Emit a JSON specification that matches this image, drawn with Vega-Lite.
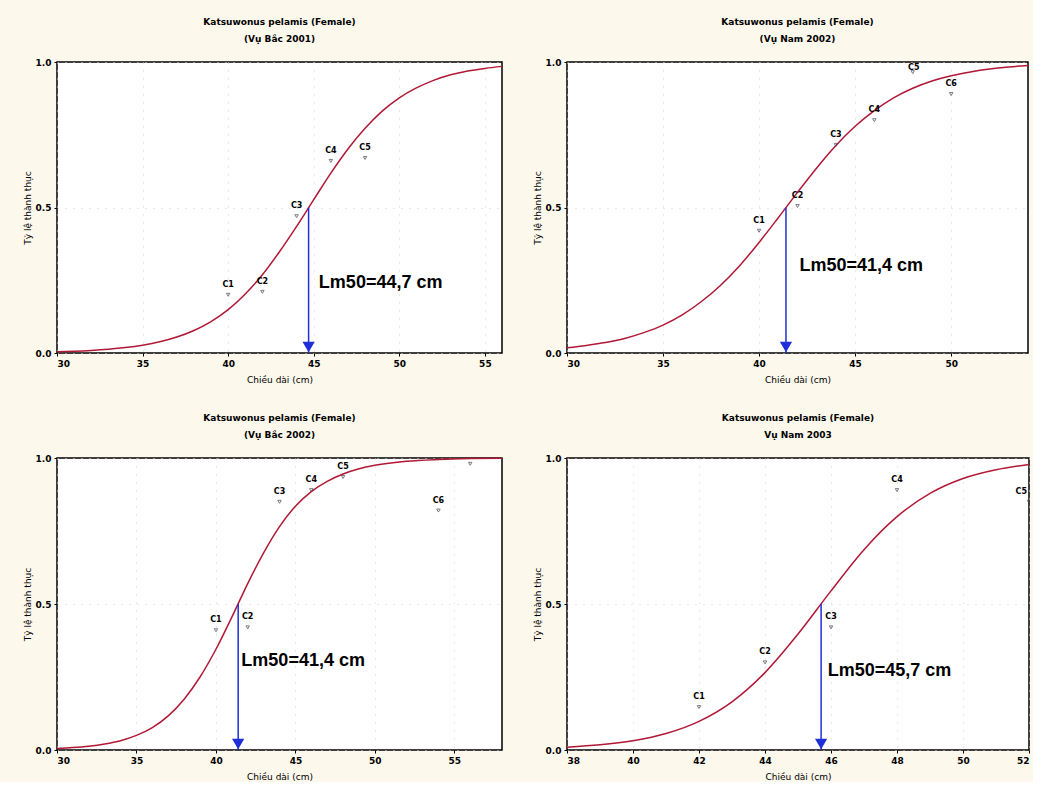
{
"$schema": "https://vega.github.io/schema/vega-lite/v6.json",
"background": "#fcf8ec",
"padding": {"left": 22, "top": 17, "right": 0, "bottom": 0},
"bounds": "flush",
"columns": 2,
"spacing": {"row": 105, "column": 65},
"align": "each",
"config": {
  "view": {"stroke": "#000", "strokeWidth": 1.5, "fill": "#ffffff"},
  "axis": {"labelFont": "DejaVu Sans", "labelFontSize": 9, "labelFontWeight": "bold", "labelColor": "#000",
           "titleFont": "DejaVu Sans", "titleFontSize": 9, "titleFontWeight": "normal", "titleColor": "#000",
           "domain": false, "tickColor": "#000", "tickSize": 3, "labelPadding": 3,
           "gridColor": "#d2d2d2", "gridDash": [1, 7], "gridWidth": 1},
  "axisX": {"titlePadding": 7},
  "axisY": {"titlePadding": 3},
  "title": {"font": "DejaVu Sans", "fontSize": 9, "fontWeight": "bold", "subtitleFont": "DejaVu Sans", "subtitleFontSize": 9, "subtitleFontWeight": "bold", "subtitleColor": "#000", "subtitlePadding": 8, "offset": 14, "anchor": "middle"}
},
"concat": [
{
 "width": 445, "height": 291,
 "title": {"text": "Katsuwonus pelamis (Female)", "subtitle": "(Vụ Bắc 2001)"},
 "layer": [
  {"data": {"values": [{"x":30,"y":0.0043},{"x":31,"y":0.0062},{"x":32,"y":0.009},{"x":33,"y":0.013},{"x":34,"y":0.0187},{"x":35,"y":0.0269},{"x":36,"y":0.0384},{"x":37,"y":0.0547},{"x":38,"y":0.0773},{"x":39,"y":0.108},{"x":40,"y":0.149},{"x":41,"y":0.203},{"x":42,"y":0.269},{"x":43,"y":0.348},{"x":44,"y":0.435},{"x":45,"y":0.527},{"x":46,"y":0.618},{"x":47,"y":0.701},{"x":48,"y":0.772},{"x":49,"y":0.831},{"x":50,"y":0.877},{"x":51,"y":0.911},{"x":52,"y":0.937},{"x":53,"y":0.956},{"x":54,"y":0.969},{"x":55,"y":0.978},{"x":56,"y":0.985}]},
   "mark": {"type": "line", "color": "#b01835", "strokeWidth": 1.5, "interpolate": "monotone"},
   "encoding": {
     "x": {"field": "x", "type": "quantitative", "scale": {"domain": [30, 56], "nice": false, "zero": false}, "axis": {"title": "Chiều dài (cm)", "values": [30,35,40,45,50,55]}},
     "y": {"field": "y", "type": "quantitative", "scale": {"domain": [0, 1], "nice": false}, "axis": {"title": "Tỷ lệ thành thục", "values": [0, 0.5, 1], "format": ".1f"}}
   }},
  {"data": {"values": [{"x":44.7,"y":0.5,"y0":0}]},
   "mark": {"type": "rule", "color": "#1f2fd8", "strokeWidth": 1.5},
   "encoding": {"x": {"field": "x", "type": "quantitative"}, "y": {"field": "y", "type": "quantitative"}, "y2": {"field": "y0"}}},
  {"data": {"values": [{"x":44.7,"y":0}]},
   "mark": {"type": "point", "shape": "triangle-down", "filled": true, "color": "#1f2fd8", "size": 150, "opacity": 1, "yOffset": -6},
   "encoding": {"x": {"field": "x", "type": "quantitative"}, "y": {"field": "y", "type": "quantitative"}}},
  {"data": {"values": [{"x":45.3,"y":0.24,"label":"Lm50=44,7 cm"}]},
   "mark": {"type": "text", "align": "left", "baseline": "middle", "font": "Liberation Sans", "fontSize": 18, "fontWeight": "bold", "color": "#000"},
   "encoding": {"x": {"field": "x", "type": "quantitative"}, "y": {"field": "y", "type": "quantitative"}, "text": {"field": "label"}}},
  {"data": {"values": [{"x":40,"y":0.2,"label":"C1"},{"x":42,"y":0.21,"label":"C2"},{"x":44,"y":0.47,"label":"C3"},{"x":46,"y":0.66,"label":"C4"},{"x":48,"y":0.67,"label":"C5"}]},
   "layer": [
    {"mark": {"type": "point", "shape": "triangle-down", "size": 12, "filled": false, "color": "#445", "strokeWidth": 1, "clip": true},
     "encoding": {"x": {"field": "x", "type": "quantitative"}, "y": {"field": "y", "type": "quantitative"}}},
    {"mark": {"type": "text", "dy": -10, "font": "DejaVu Sans", "fontSize": 8, "fontWeight": "bold", "color": "#000", "clip": true},
     "encoding": {"x": {"field": "x", "type": "quantitative"}, "y": {"field": "y", "type": "quantitative"}, "text": {"field": "label"}}}
   ]}
 ]
},
{
 "width": 461, "height": 291,
 "title": {"text": "Katsuwonus pelamis (Female)", "subtitle": "(Vụ Nam 2002)"},
 "layer": [
  {"data": {"values": [{"x":30,"y":0.018},{"x":31,"y":0.026},{"x":32,"y":0.036},{"x":33,"y":0.05},{"x":34,"y":0.07},{"x":35,"y":0.096},{"x":36,"y":0.131},{"x":37,"y":0.177},{"x":38,"y":0.233},{"x":39,"y":0.301},{"x":40,"y":0.38},{"x":41,"y":0.465},{"x":42,"y":0.552},{"x":43,"y":0.636},{"x":44,"y":0.713},{"x":45,"y":0.779},{"x":46,"y":0.833},{"x":47,"y":0.877},{"x":48,"y":0.91},{"x":49,"y":0.935},{"x":50,"y":0.953},{"x":51,"y":0.966},{"x":52,"y":0.976},{"x":53,"y":0.983},{"x":54,"y":0.988}]},
   "mark": {"type": "line", "color": "#b01835", "strokeWidth": 1.5, "interpolate": "monotone"},
   "encoding": {
     "x": {"field": "x", "type": "quantitative", "scale": {"domain": [30, 54], "nice": false, "zero": false}, "axis": {"title": "Chiều dài (cm)", "values": [30,35,40,45,50]}},
     "y": {"field": "y", "type": "quantitative", "scale": {"domain": [0, 1], "nice": false}, "axis": {"title": "Tỷ lệ thành thục", "values": [0, 0.5, 1], "format": ".1f"}}
   }},
  {"data": {"values": [{"x":41.4,"y":0.5,"y0":0}]},
   "mark": {"type": "rule", "color": "#1f2fd8", "strokeWidth": 1.5},
   "encoding": {"x": {"field": "x", "type": "quantitative"}, "y": {"field": "y", "type": "quantitative"}, "y2": {"field": "y0"}}},
  {"data": {"values": [{"x":41.4,"y":0}]},
   "mark": {"type": "point", "shape": "triangle-down", "filled": true, "color": "#1f2fd8", "size": 150, "opacity": 1, "yOffset": -6},
   "encoding": {"x": {"field": "x", "type": "quantitative"}, "y": {"field": "y", "type": "quantitative"}}},
  {"data": {"values": [{"x":42.1,"y":0.30,"label":"Lm50=41,4 cm"}]},
   "mark": {"type": "text", "align": "left", "baseline": "middle", "font": "Liberation Sans", "fontSize": 18, "fontWeight": "bold", "color": "#000"},
   "encoding": {"x": {"field": "x", "type": "quantitative"}, "y": {"field": "y", "type": "quantitative"}, "text": {"field": "label"}}},
  {"data": {"values": [{"x":40,"y":0.42,"label":"C1"},{"x":42,"y":0.505,"label":"C2"},{"x":44,"y":0.715,"label":"C3"},{"x":46,"y":0.8,"label":"C4"},{"x":50,"y":0.89,"label":"C6"}]},
   "layer": [
    {"mark": {"type": "point", "shape": "triangle-down", "size": 12, "filled": false, "color": "#445", "strokeWidth": 1, "clip": true},
     "encoding": {"x": {"field": "x", "type": "quantitative"}, "y": {"field": "y", "type": "quantitative"}}},
    {"mark": {"type": "text", "dy": -10, "font": "DejaVu Sans", "fontSize": 8, "fontWeight": "bold", "color": "#000", "clip": true},
     "encoding": {"x": {"field": "x", "type": "quantitative"}, "y": {"field": "y", "type": "quantitative"}, "text": {"field": "label"}}}
   ]},
  {"data": {"values": [{"x":48,"y":0.965,"label":"C5"},{"x":52,"y":1.0,"label":""}]},
   "layer": [
    {"mark": {"type": "point", "shape": "triangle-down", "size": 12, "filled": false, "color": "#445", "strokeWidth": 1, "clip": true},
     "encoding": {"x": {"field": "x", "type": "quantitative"}, "y": {"field": "y", "type": "quantitative"}}},
    {"mark": {"type": "text", "dy": -4, "dx": 1, "font": "DejaVu Sans", "fontSize": 8, "fontWeight": "bold", "color": "#000", "clip": true},
     "encoding": {"x": {"field": "x", "type": "quantitative"}, "y": {"field": "y", "type": "quantitative"}, "text": {"field": "label"}}}
   ]}
 ]
},
{
 "width": 445, "height": 292,
 "title": {"text": "Katsuwonus pelamis (Female)", "subtitle": "(Vụ Bắc 2002)"},
 "layer": [
  {"data": {"values": [{"x":30,"y":0.0053},{"x":31,"y":0.0083},{"x":32,"y":0.013},{"x":33,"y":0.0206},{"x":34,"y":0.032},{"x":35,"y":0.05},{"x":36,"y":0.077},{"x":37,"y":0.117},{"x":38,"y":0.174},{"x":39,"y":0.25},{"x":40,"y":0.345},{"x":41,"y":0.455},{"x":42,"y":0.57},{"x":43,"y":0.675},{"x":44,"y":0.765},{"x":45,"y":0.835},{"x":46,"y":0.885},{"x":47,"y":0.92},{"x":48,"y":0.945},{"x":49,"y":0.963},{"x":50,"y":0.975},{"x":52,"y":0.989},{"x":54,"y":0.995},{"x":56,"y":0.998},{"x":58,"y":0.999}]},
   "mark": {"type": "line", "color": "#b01835", "strokeWidth": 1.5, "interpolate": "monotone"},
   "encoding": {
     "x": {"field": "x", "type": "quantitative", "scale": {"domain": [30, 58], "nice": false, "zero": false}, "axis": {"title": "Chiều dài (cm)", "values": [30,35,40,45,50,55]}},
     "y": {"field": "y", "type": "quantitative", "scale": {"domain": [0, 1], "nice": false}, "axis": {"title": "Tỷ lệ thành thục", "values": [0, 0.5, 1], "format": ".1f"}}
   }},
  {"data": {"values": [{"x":41.4,"y":0.5,"y0":0}]},
   "mark": {"type": "rule", "color": "#1f2fd8", "strokeWidth": 1.5},
   "encoding": {"x": {"field": "x", "type": "quantitative"}, "y": {"field": "y", "type": "quantitative"}, "y2": {"field": "y0"}}},
  {"data": {"values": [{"x":41.4,"y":0}]},
   "mark": {"type": "point", "shape": "triangle-down", "filled": true, "color": "#1f2fd8", "size": 150, "opacity": 1, "yOffset": -6},
   "encoding": {"x": {"field": "x", "type": "quantitative"}, "y": {"field": "y", "type": "quantitative"}}},
  {"data": {"values": [{"x":41.6,"y":0.305,"label":"Lm50=41,4 cm"}]},
   "mark": {"type": "text", "align": "left", "baseline": "middle", "font": "Liberation Sans", "fontSize": 18, "fontWeight": "bold", "color": "#000"},
   "encoding": {"x": {"field": "x", "type": "quantitative"}, "y": {"field": "y", "type": "quantitative"}, "text": {"field": "label"}}},
  {"data": {"values": [{"x":40,"y":0.41,"label":"C1"},{"x":42,"y":0.42,"label":"C2"},{"x":44,"y":0.85,"label":"C3"},{"x":46,"y":0.89,"label":"C4"},{"x":48,"y":0.935,"label":"C5"},{"x":54,"y":0.82,"label":"C6"},{"x":56,"y":0.98,"label":""}]},
   "layer": [
    {"mark": {"type": "point", "shape": "triangle-down", "size": 12, "filled": false, "color": "#445", "strokeWidth": 1, "clip": true},
     "encoding": {"x": {"field": "x", "type": "quantitative"}, "y": {"field": "y", "type": "quantitative"}}},
    {"mark": {"type": "text", "dy": -10, "font": "DejaVu Sans", "fontSize": 8, "fontWeight": "bold", "color": "#000", "clip": true},
     "encoding": {"x": {"field": "x", "type": "quantitative"}, "y": {"field": "y", "type": "quantitative"}, "text": {"field": "label"}}}
   ]}
 ]
},
{
 "width": 462, "height": 292,
 "title": {"text": "Katsuwonus pelamis (Female)", "subtitle": "Vụ Nam 2003"},
 "layer": [
  {"data": {"values": [{"x":38,"y":0.0098},{"x":39,"y":0.0176},{"x":40,"y":0.0317},{"x":41,"y":0.0563},{"x":42,"y":0.098},{"x":43,"y":0.165},{"x":44,"y":0.265},{"x":45,"y":0.397},{"x":46,"y":0.545},{"x":47,"y":0.686},{"x":48,"y":0.799},{"x":49,"y":0.879},{"x":50,"y":0.93},{"x":51,"y":0.96},{"x":52,"y":0.978}]},
   "mark": {"type": "line", "color": "#b01835", "strokeWidth": 1.5, "interpolate": "monotone"},
   "encoding": {
     "x": {"field": "x", "type": "quantitative", "scale": {"domain": [38, 52], "nice": false, "zero": false}, "axis": {"title": "Chiều dài (cm)", "values": [38,40,42,44,46,48,50,52]}},
     "y": {"field": "y", "type": "quantitative", "scale": {"domain": [0, 1], "nice": false}, "axis": {"title": "Tỷ lệ thành thục", "values": [0, 0.5, 1], "format": ".1f"}}
   }},
  {"data": {"values": [{"x":45.7,"y":0.5,"y0":0}]},
   "mark": {"type": "rule", "color": "#1f2fd8", "strokeWidth": 1.5},
   "encoding": {"x": {"field": "x", "type": "quantitative"}, "y": {"field": "y", "type": "quantitative"}, "y2": {"field": "y0"}}},
  {"data": {"values": [{"x":45.7,"y":0}]},
   "mark": {"type": "point", "shape": "triangle-down", "filled": true, "color": "#1f2fd8", "size": 150, "opacity": 1, "yOffset": -6},
   "encoding": {"x": {"field": "x", "type": "quantitative"}, "y": {"field": "y", "type": "quantitative"}}},
  {"data": {"values": [{"x":45.9,"y":0.27,"label":"Lm50=45,7 cm"}]},
   "mark": {"type": "text", "align": "left", "baseline": "middle", "font": "Liberation Sans", "fontSize": 18, "fontWeight": "bold", "color": "#000"},
   "encoding": {"x": {"field": "x", "type": "quantitative"}, "y": {"field": "y", "type": "quantitative"}, "text": {"field": "label"}}},
  {"data": {"values": [{"x":42,"y":0.147,"label":"C1"},{"x":44,"y":0.3,"label":"C2"},{"x":46,"y":0.42,"label":"C3"},{"x":48,"y":0.89,"label":"C4"},{"x":52,"y":0.85,"label":""}]},
   "layer": [
    {"mark": {"type": "point", "shape": "triangle-down", "size": 12, "filled": false, "color": "#445", "strokeWidth": 1, "clip": true},
     "encoding": {"x": {"field": "x", "type": "quantitative"}, "y": {"field": "y", "type": "quantitative"}}},
    {"mark": {"type": "text", "dy": -10, "font": "DejaVu Sans", "fontSize": 8, "fontWeight": "bold", "color": "#000", "clip": true},
     "encoding": {"x": {"field": "x", "type": "quantitative"}, "y": {"field": "y", "type": "quantitative"}, "text": {"field": "label"}}}
   ]},
  {"data": {"values": [{"x":52,"y":0.85,"label":"C5"}]},
   "mark": {"type": "text", "dy": -10, "dx": -2, "align": "right", "font": "DejaVu Sans", "fontSize": 8, "fontWeight": "bold", "color": "#000", "clip": true},
   "encoding": {"x": {"field": "x", "type": "quantitative"}, "y": {"field": "y", "type": "quantitative"}, "text": {"field": "label"}}}
 ]
}
]
}
